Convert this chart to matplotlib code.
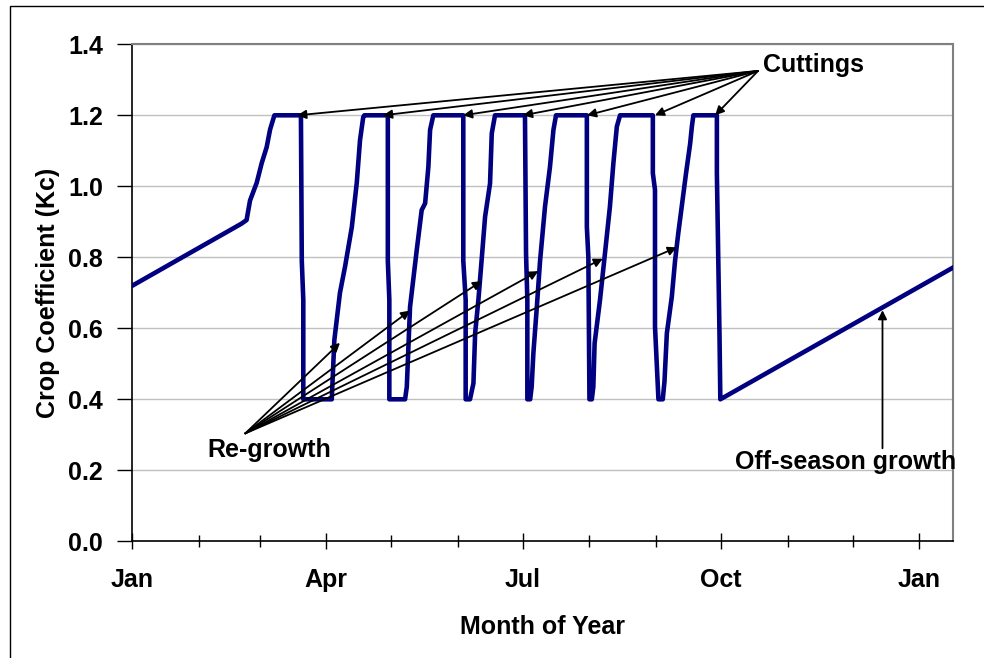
import matplotlib
matplotlib.use("Agg")
import matplotlib.pyplot as plt
from matplotlib.patches import Rectangle

plt.rcParams['font.family'] = ['Liberation Sans', 'DejaVu Sans']
plt.rcParams['font.weight'] = 'bold'

# ---- data (day of year, crop coefficient) ----
day = [0, 50.7, 53, 54.6, 57.7, 60, 62.3, 63.9, 65.9, 78.2, 78.6, 79.3, 79.3, 92.5,
       93.7, 96.3, 98.7, 101.8, 104.1, 105.6, 107.1, 107.6, 118.5, 118.5, 119.2, 119.2, 126.5,
       127.3, 128.8, 131.9, 134.2, 135.8, 137.3, 138.1, 139.6, 153.5, 153.5, 154.6, 154.6, 156.6,
       158.2, 159.0, 160.5, 162.1, 163.6, 165.9, 166.7, 168.2, 182.1, 182.6, 183.2, 183.2, 184.5,
       185.2, 186.0, 187.6, 189.1, 191.4, 193.7, 195.3, 196.5, 210.8, 210.8, 211.5, 212.0, 213.1,
       213.8, 214.4, 216.9, 219.2, 221.5, 223.1, 224.7, 226.2, 241.4, 241.4, 242.4, 242.4, 244.0, 246.0,
       246.8, 247.9, 250.2, 251.7, 253.2, 254.8, 256.8, 258.7, 259.5, 260.2, 271.1, 271.1, 272.3, 272.7,
       380.6]
kc = [0.72, 0.895, 0.905, 0.96, 1.01, 1.065, 1.11, 1.16, 1.2, 1.2, 0.79, 0.68, 0.4, 0.4,
      0.567, 0.70, 0.775, 0.885, 1.01, 1.13, 1.195, 1.2, 1.2, 0.79, 0.68, 0.4, 0.4,
      0.435, 0.66, 0.82, 0.933, 0.952, 1.055, 1.159, 1.2, 1.2, 0.79, 0.68, 0.4, 0.4,
      0.445, 0.587, 0.68, 0.80, 0.914, 1.008, 1.149, 1.2, 1.2, 0.81, 0.68, 0.4, 0.4,
      0.435, 0.53, 0.66, 0.79, 0.943, 1.055, 1.159, 1.2, 1.2, 0.886, 0.80, 0.4, 0.4,
      0.435, 0.558, 0.68, 0.811, 0.943, 1.065, 1.168, 1.2, 1.2, 1.037, 0.99, 0.605, 0.4, 0.4,
      0.45, 0.586, 0.689, 0.79, 0.868, 0.943, 1.037, 1.12, 1.168, 1.2, 1.2, 1.037, 0.586, 0.4,
      0.771]

month_starts = [0, 31, 59, 90, 120, 151, 181, 212, 243, 273, 304, 334, 365]
major_days = [0, 90, 181, 273, 365]
major_labels = ['Jan', 'Apr', 'Jul', 'Oct', 'Jan']
y_ticks = [0.0, 0.2, 0.4, 0.6, 0.8, 1.0, 1.2, 1.4]

# annotation anchors (day, kc)
cut_days = [76.5, 116.3, 153.4, 181.2, 210.9, 242.4, 270.3]
cut_kc = 1.2
cut_tail = (290.2, 1.325)
regrow_days = [96.3, 128.8, 162.1, 188.3, 218.2, 252.5]
regrow_kc = [0.559, 0.65, 0.733, 0.761, 0.796, 0.828]
regrow_tail = (52.4, 0.304)
off_head = (347.9, 0.651)
off_tail = (347.9, 0.262)

FS = 18

fig = plt.figure(figsize=(9.84, 6.58), dpi=100)
ax = fig.add_axes([132.3/984, 1-541.3/658, (953-132.3)/984, (541.3-44.3)/658])

ax.plot(day, kc, color='#000080', lw=3.3, solid_joinstyle='round', zorder=3)

ax.set_xlim(0, 380.6)
ax.set_ylim(0, 1.4)
ax.set_yticks(y_ticks)
ax.set_yticklabels([f'{v:.1f}' for v in y_ticks])
ax.set_xticks(major_days)
ax.set_xticklabels(major_labels)
ax.set_xticks([d for d in month_starts if d not in major_days], minor=True)

ax.yaxis.grid(True, color='#c0c0c0', lw=1.0)
ax.set_axisbelow(True)

for s in ['top', 'right']:
    ax.spines[s].set_color('#808080')
    ax.spines[s].set_linewidth(1.5)
for s in ['left', 'bottom']:
    ax.spines[s].set_color('black')
    ax.spines[s].set_linewidth(1.2)

ax.tick_params(axis='y', direction='out', length=11, width=1, pad=10, labelsize=FS)
ax.tick_params(axis='x', which='major', direction='inout', length=11, width=1, pad=14, labelsize=FS)
ax.tick_params(axis='x', which='minor', direction='inout', length=9, width=1)
for lab in ax.get_xticklabels() + ax.get_yticklabels():
    lab.set_fontweight('bold')

ax.set_ylabel('Crop Coefficient (Kc)', fontsize=FS, fontweight='bold', labelpad=6)
ax.set_xlabel('Month of Year', fontsize=FS, fontweight='bold', labelpad=16)

arrow_kw = dict(arrowstyle='-|>', lw=1.3, color='black', mutation_scale=13, shrinkA=0, shrinkB=0)
for d in cut_days:
    ax.annotate('', xy=(d, cut_kc), xytext=cut_tail, arrowprops=arrow_kw, zorder=4)
for d, k in zip(regrow_days, regrow_kc):
    ax.annotate('', xy=(d, k), xytext=regrow_tail, arrowprops=arrow_kw, zorder=4)
ax.annotate('', xy=off_head, xytext=off_tail, arrowprops=arrow_kw, zorder=4)

ax.text(292.5, 1.342, 'Cuttings', fontsize=FS, fontweight='bold', ha='left', va='center')
ax.text(34.8, 0.257, 'Re-growth', fontsize=FS, fontweight='bold', ha='left', va='center')
ax.text(279.5, 0.224, 'Off-season growth', fontsize=FS, fontweight='bold', ha='left', va='center',
        clip_on=False, zorder=5)

fig.patches.append(Rectangle((10/984, -0.1), 1.2, 0.1 + 1 - 6/658, transform=fig.transFigure,
                             fill=False, edgecolor='black', lw=1.0))

fig.savefig('out.png', dpi=100)
